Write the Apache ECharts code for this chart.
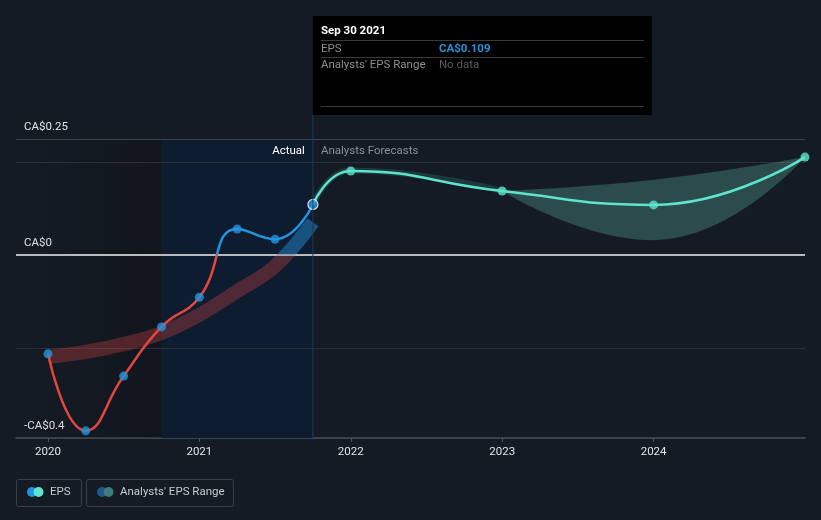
<!DOCTYPE html>
<html><head><meta charset="utf-8">
<script src="https://cdn.jsdelivr.net/npm/echarts@6/dist/echarts.min.js"></script>
<style>html,body{margin:0;padding:0;background:#151b25;}#c{width:821px;height:520px;}</style>
</head><body><div id="c"></div>
<script>
// ---- data ----
const actualX = [2020.0, 2020.25, 2020.5, 2020.75, 2021.0, 2021.25, 2021.5, 2021.75];
const actualEPS = [-0.213, -0.379, -0.261, -0.155, -0.091, 0.056, 0.034, 0.109];
const pastBandMid = [-0.220, -0.209, -0.192, -0.168, -0.129, -0.078, -0.024, 0.071];
const forecastX = [2021.75, 2022, 2023, 2024, 2025];
const forecastEPS = [0.109, 0.181, 0.138, 0.108, 0.211];
const rangeX = [2023, 2024, 2025];
const rangeLow = [0.138, 0.032, 0.211];
const rangeHigh = [0.138, 0.162, 0.211];
const haloX = [2021.75, 2022, 2023];
const haloEPS = [0.109, 0.182, 0.138];
const xTicks = [2020, 2021, 2022, 2023, 2024];
const yTickValues = [-0.3944, 0, 0.25];
const yTickLabels = ['-CA$0.4', 'CA$0', 'CA$0.25'];
const gridValues = [0.25, 0.2, 0, -0.2];
const xMin = 2019.789, xMax = 2025.0;
const yMin = -0.3944, yMax = 0.25;
const actualStart = 2020.75, actualEnd = 2021.75;

const pair = (xs, ys) => xs.map((x, i) => [x, ys[i]]);
const pairYX = (xs, ys) => xs.map((x, i) => [ys[i], x]); // [y, x] so that the stack runs on y
const FONT = 'Roboto, "Noto Sans", sans-serif';
const FS = 11;

const chart = echarts.init(document.getElementById('c'), null, {renderer: 'canvas'});

const gridLineStyles = {
  '0.25': {color: '#40454e', width: 1},
  '0.2': {color: '#2a2f38', width: 1},
  '0': {color: '#b9bbbe', width: 2},
  '-0.2': {color: '#2a2f38', width: 1}
};

const option = {
  backgroundColor: '#151b25',
  animation: false,
  textStyle: {fontFamily: FONT},
  grid: {left: 16, right: 16, top: 139, bottom: 82, containLabel: false},
  xAxis: {
    type: 'value', min: xMin, max: xMax,
    splitLine: {show: false},
    axisLine: {show: true, onZero: false, lineStyle: {color: '#4b5059', width: 1.5}},
    axisTick: {show: true, customValues: xTicks, length: 4, lineStyle: {color: '#4b5059'}},
    axisLabel: {customValues: xTicks, color: '#e2e4e7', fontSize: FS + 0.5, fontFamily: FONT, margin: 8,
      formatter: v => String(Math.round(v))}
  },
  yAxis: {
    type: 'value', min: yMin, max: yMax,
    splitLine: {show: false}, axisLine: {show: false}, axisTick: {show: false},
    axisLabel: {
      customValues: yTickValues, inside: true, margin: 8, color: '#e2e4e7', fontSize: FS + 0.5, fontFamily: FONT,
      verticalAlign: 'bottom', lineHeight: 14, padding: [0, 0, 5, 0],
      formatter: v => { const i = yTickValues.findIndex(t => Math.abs(t - v) < 1e-6); return i >= 0 ? yTickLabels[i] : ''; }
    }
  },
  visualMap: [
    {type: 'piecewise', show: false, seriesIndex: 4, dimension: 1,
      pieces: [{gte: -10, lt: 0, color: '#e4463f'}, {gte: 0, lte: 10, color: '#2394df'}]},
    {type: 'piecewise', show: false, seriesIndex: 1, dimension: 1,
      pieces: [{gte: -10, lt: 0, color: 'rgba(228,70,65,0.3)'}, {gte: 0, lte: 10, color: 'rgba(35,148,223,0.45)'}]}
  ],
  series: [
    { // background regions + gridlines
      type: 'line', data: [], silent: true, z: 1,
      markArea: {
        silent: true, z: 1,
        data: [
          [{xAxis: xMin, itemStyle: {color: {type: 'linear', x: 0, y: 0, x2: 1, y2: 0,
            colorStops: [{offset: 0, color: 'rgba(0,0,0,0.0)'}, {offset: 1, color: 'rgba(0,0,0,0.2)'}]}}},
           {xAxis: actualStart}],
          [{xAxis: actualStart, itemStyle: {color: '#0e1c30'}}, {xAxis: actualEnd}]
        ]
      },
      markLine: {
        silent: true, z: 2, symbol: ['none', 'none'], label: {show: false},
        data: gridValues.map(v => ({yAxis: v, lineStyle: Object.assign({type: 'solid'}, gridLineStyles[String(v)])}))
      }
    },
    { // past band (thick translucent stroke)
      type: 'line', data: pair(actualX, pastBandMid), smooth: 0.4, showSymbol: false, silent: true, z: 2,
      lineStyle: {width: 14, cap: 'butt'}
    },
    { // range low (invisible)
      type: 'line', data: pairYX(rangeX, rangeLow), encode: {x: 1, y: 0}, stack: 'range', smooth: 0.5,
      showSymbol: false, silent: true, z: 2, lineStyle: {opacity: 0}
    },
    { // range diff
      type: 'line', data: pairYX(rangeX, rangeHigh.map((h, i) => h - rangeLow[i])), encode: {x: 1, y: 0}, stack: 'range', smooth: 0.5,
      showSymbol: false, silent: true, z: 2,
      lineStyle: {opacity: 0}, areaStyle: {color: 'rgba(110,220,200,0.25)', opacity: 1}
    },
    { // actual EPS line
      type: 'line', data: pair(actualX, actualEPS), smooth: 0.5, showSymbol: false, z: 3,
      lineStyle: {width: 2.5}
    },
    { // forecast line
      type: 'line', data: pair(forecastX, forecastEPS), smooth: 0.5, showSymbol: false, z: 3,
      lineStyle: {width: 2.5, color: '#5ee3cc'}
    },
    { // actual dots
      type: 'scatter', z: 5,
      data: actualX.map((x, i) => i === actualX.length - 1
        ? {value: [x, actualEPS[i]], symbolSize: 10, itemStyle: {color: '#2394df', borderColor: '#ffffff', borderWidth: 1.2}}
        : {value: [x, actualEPS[i]]}),
      symbolSize: 9, itemStyle: {color: '#2394df'}
    },
    { // forecast dots
      type: 'scatter', z: 5,
      data: pair(forecastX.slice(1), forecastEPS.slice(1)),
      symbolSize: 9, itemStyle: {color: '#5ee3cc'}
    },
    { // faint halo of near-term range
      type: 'line', data: pair(haloX, haloEPS), smooth: 0.5, showSymbol: false, silent: true, z: 2,
      lineStyle: {width: 6, color: 'rgba(94,227,204,0.15)'}
    }
  ]
};
chart.setOption(option);

const px = chart.convertToPixel({gridIndex: 0}, [actualEnd, 0])[0];
const gridTop = chart.convertToPixel({gridIndex: 0}, [actualEnd, yMax])[1];
const gridBottom = chart.convertToPixel({gridIndex: 0}, [actualEnd, yMin])[1];

function txt(x, y, text, fill, size, weight, align) {
  return {type: 'text', silent: true, z: 100, style: {x, y, text, fill, font: (weight || 'normal') + ' ' + size + 'px ' + FONT,
    textAlign: align || 'left', align: align || 'left', textVerticalAlign: 'middle', verticalAlign: 'middle'}};
}
function hline(x1, x2, y, color) {
  return {type: 'line', silent: true, z: 100, shape: {x1, y1: y, x2, y2: y}, style: {stroke: color, lineWidth: 1}};
}
const boxL = px, boxT = 16, boxW = 339, boxH = 99;
const TS = FS + 0.5;
chart.setOption({
  graphic: [
    {type: 'line', silent: true, z: 50, shape: {x1: px, y1: boxT + boxH, x2: px, y2: gridBottom}, style: {stroke: '#1f3a5c', lineWidth: 1}},
    txt(px - 8, gridTop + 12.5, 'Actual', '#ffffff', TS, 'normal', 'right'),
    txt(px + 8, gridTop + 12.5, 'Analysts Forecasts', '#8b9099', TS, 'normal', 'left'),
    {type: 'rect', silent: true, z: 99, shape: {x: boxL, y: boxT, width: boxW, height: boxH}, style: {fill: '#000000'}},
    txt(boxL + 8, 31.5, 'Sep 30 2021', '#ffffff', TS, 'bold'),
    hline(boxL + 8, boxL + boxW - 8, 40.5, '#3a3a3a'),
    txt(boxL + 8, 49, 'EPS', '#8f8f8f', TS),
    txt(boxL + 126, 49, 'CA$0.109', '#2394df', TS, 'bold'),
    hline(boxL + 8, boxL + boxW - 8, 57.5, '#3a3a3a'),
    txt(boxL + 8, 65.5, "Analysts' EPS Range", '#8f8f8f', TS),
    txt(boxL + 126, 65.5, 'No data', '#5c5c5c', TS),
    hline(boxL + 8, boxL + boxW - 8, 106.5, '#3a3a3a'),
    // legend
    {type: 'rect', silent: true, z: 100, shape: {x: 16.5, y: 479.5, width: 65, height: 27, r: 2}, style: {fill: 'none', stroke: '#3a3f48', lineWidth: 1}},
    {type: 'circle', silent: true, z: 101, shape: {cx: 32, cy: 492, r: 5}, style: {fill: '#2394df'}},
    {type: 'circle', silent: true, z: 102, shape: {cx: 38.5, cy: 492, r: 5}, style: {fill: '#5ee3cc'}},
    txt(50, 492.5, 'EPS', '#c6cad0', TS),
    {type: 'rect', silent: true, z: 100, shape: {x: 86.5, y: 479.5, width: 147, height: 27, r: 2}, style: {fill: 'none', stroke: '#3a3f48', lineWidth: 1}},
    {type: 'circle', silent: true, z: 101, shape: {cx: 102, cy: 492, r: 5}, style: {fill: '#1f5a8a'}},
    {type: 'circle', silent: true, z: 102, shape: {cx: 108.5, cy: 492, r: 5}, style: {fill: '#3d7c7c'}},
    txt(120, 492.5, "Analysts' EPS Range", '#c6cad0', TS)
  ]
});
</script>
</body></html>
